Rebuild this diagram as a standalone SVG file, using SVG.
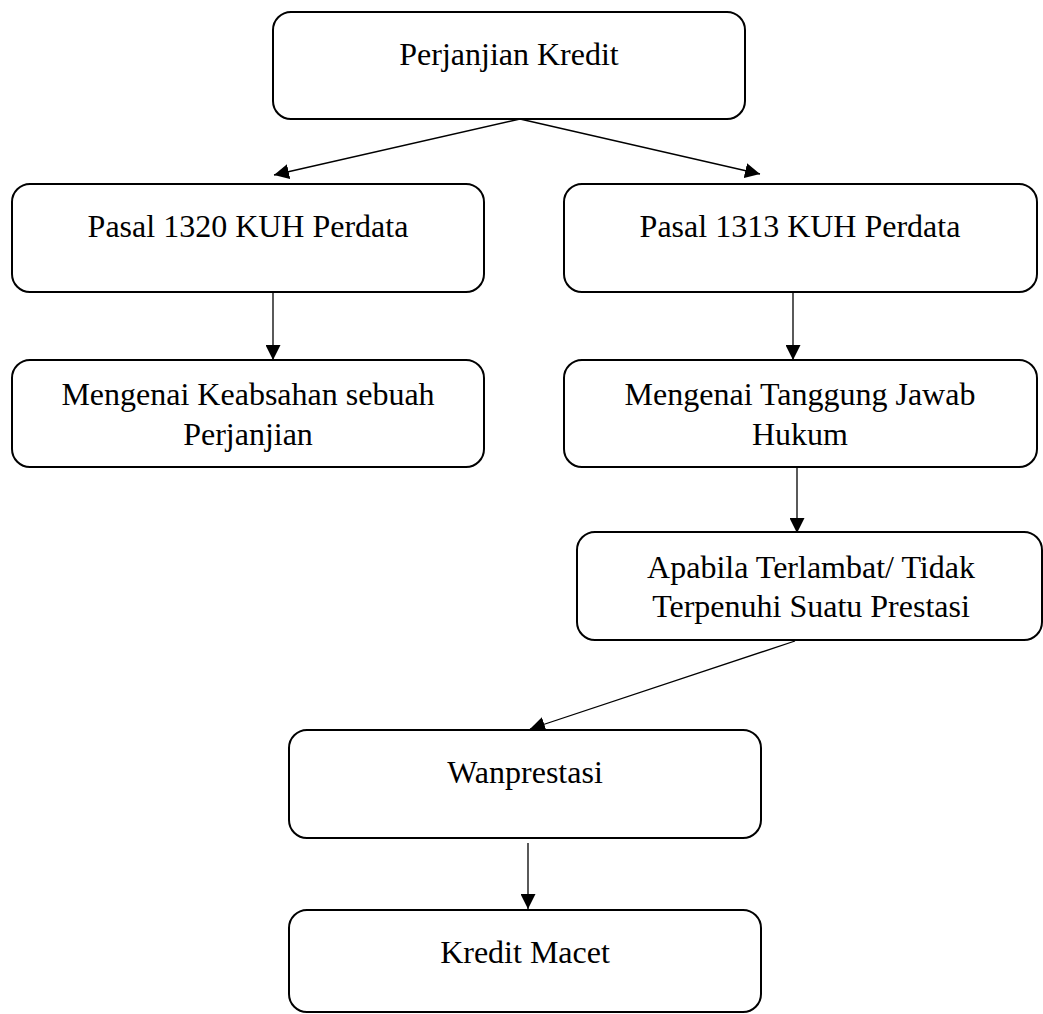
<svg xmlns="http://www.w3.org/2000/svg" width="1043" height="1014" viewBox="0 0 1043 1014">
  <style>
    .box { fill: #ffffff; stroke: #000000; stroke-width: 2; }
    .lbl { font-family: "Liberation Serif", "Times New Roman", serif; font-size: 32px; fill: #000000; text-anchor: middle; }
    .edge { stroke: #000000; stroke-width: 1.3; fill: none; marker-end: url(#arrow); }
  </style>
  <defs>
    <marker id="arrow" markerUnits="userSpaceOnUse" markerWidth="15" markerHeight="15" refX="15" refY="7.5" orient="auto" viewBox="0 0 15 15">
      <path d="M0,0 L15,7.5 L0,15 z" fill="#000000"/>
    </marker>
  </defs>
  <rect width="1043" height="1014" fill="#ffffff"/>

  <g id="connectors">
    <line class="edge" x1="520" y1="119" x2="274" y2="175"/>
    <line class="edge" x1="520" y1="119" x2="760" y2="174"/>
    <line class="edge" x1="273" y1="292" x2="273" y2="360"/>
    <line class="edge" x1="793" y1="292" x2="793" y2="360"/>
    <line class="edge" x1="797" y1="467" x2="797" y2="533"/>
    <line class="edge" x1="795" y1="641" x2="530" y2="729"/>
    <line class="edge" x1="528" y1="843" x2="528" y2="909"/>
  </g>

  <g id="n1">
    <rect class="box" x="273" y="12" width="472" height="107" rx="18"/>
    <text class="lbl" x="509" y="65">Perjanjian Kredit</text>
  </g>
  <g id="n2">
    <rect class="box" x="12" y="184" width="472" height="108" rx="18"/>
    <text class="lbl" x="248" y="237">Pasal 1320 KUH Perdata</text>
  </g>
  <g id="n3">
    <rect class="box" x="564" y="184" width="473" height="108" rx="18"/>
    <text class="lbl" x="800" y="237">Pasal 1313 KUH Perdata</text>
  </g>
  <g id="n4">
    <rect class="box" x="12" y="360" width="472" height="107" rx="18"/>
    <text class="lbl" x="248" y="405">Mengenai Keabsahan sebuah</text>
    <text class="lbl" x="248" y="445">Perjanjian</text>
  </g>
  <g id="n5">
    <rect class="box" x="564" y="360" width="473" height="107" rx="18"/>
    <text class="lbl" x="800" y="405">Mengenai Tanggung Jawab</text>
    <text class="lbl" x="800" y="445">Hukum</text>
  </g>
  <g id="n6">
    <rect class="box" x="577" y="532" width="465" height="108" rx="18"/>
    <text class="lbl" x="811" y="578">Apabila Terlambat/ Tidak</text>
    <text class="lbl" x="811" y="617">Terpenuhi Suatu Prestasi</text>
  </g>
  <g id="n7">
    <rect class="box" x="289" y="730" width="472" height="108" rx="18"/>
    <text class="lbl" x="525" y="783">Wanprestasi</text>
  </g>
  <g id="n8">
    <rect class="box" x="289" y="910" width="472" height="102" rx="18"/>
    <text class="lbl" x="525" y="963">Kredit Macet</text>
  </g>
</svg>
